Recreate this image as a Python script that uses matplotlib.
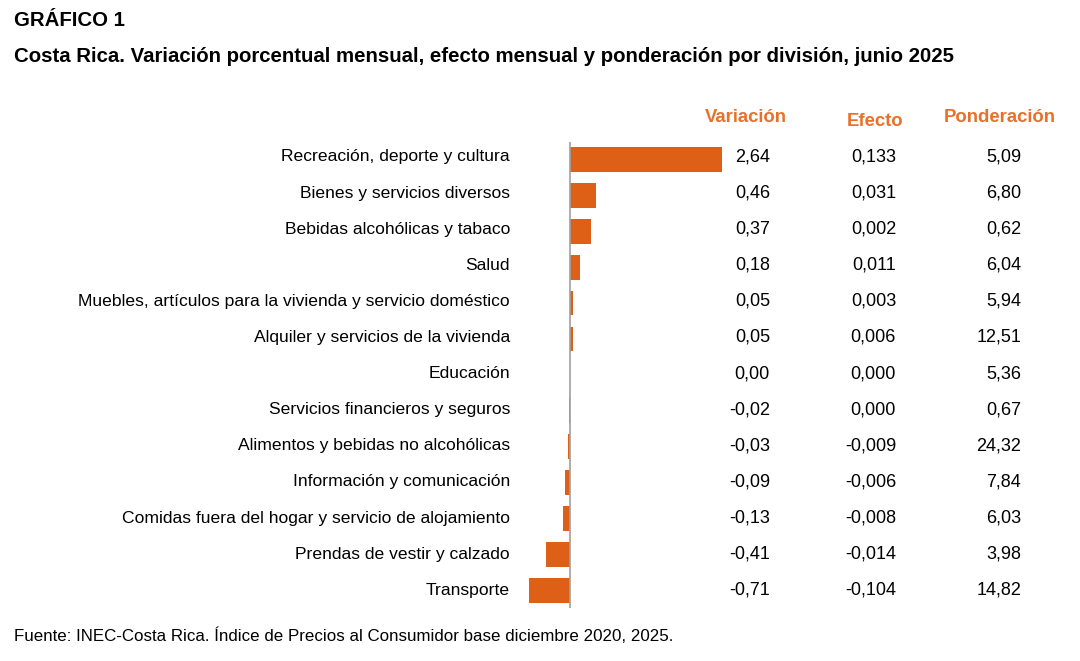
import matplotlib
matplotlib.use('Agg')
import matplotlib.pyplot as plt
from matplotlib import font_manager

# Data
categorias = ['Recreación, deporte y cultura', 'Bienes y servicios diversos',
              'Bebidas alcohólicas y tabaco', 'Salud',
              'Muebles, artículos para la vivienda y servicio doméstico',
              'Alquiler y servicios de la vivienda', 'Educación',
              'Servicios financieros y seguros', 'Alimentos y bebidas no alcohólicas',
              'Información y comunicación',
              'Comidas fuera del hogar y servicio de alojamiento',
              'Prendas de vestir y calzado', 'Transporte']
variacion = [2.64, 0.46, 0.37, 0.18, 0.05, 0.05, 0.00, -0.02, -0.03, -0.09, -0.13, -0.41, -0.71]
efecto = [0.133, 0.031, 0.002, 0.011, 0.003, 0.006, 0.000, 0.000, -0.009, -0.006, -0.008, -0.014, -0.104]
ponderacion = [5.09, 6.80, 0.62, 6.04, 5.94, 12.51, 5.36, 0.67, 24.32, 7.84, 6.03, 3.98, 14.82]

names = {f.name for f in font_manager.fontManager.ttflist}
fam = [f for f in ['Liberation Sans Narrow', 'DejaVu Sans Condensed', 'Liberation Sans'] if f in names] + ['DejaVu Sans']
plt.rcParams['font.family'] = fam

bar_color = '#DD6016'
head_color = '#E8702A'

W, H = 1080, 661
fig = plt.figure(figsize=(W / 100, H / 100), dpi=100)

def fx(px):
    return px / W

def fy(py):
    return 1 - py / H

n = len(categorias)
# bar axes: zero at x=570px, 57.6 px per unit, rows 35.9 px apart
ax_l, ax_r = 500, 760
row = 35.9
ax_t = 159.5 - row / 2
ax_b = ax_t + n * row
ax = fig.add_axes([fx(ax_l), fy(ax_b), fx(ax_r - ax_l), (ax_b - ax_t) / H])
ppu = 57.6
ax.set_xlim((ax_l - 570) / ppu, (ax_r - 570) / ppu)
ax.set_ylim(n - 0.5, -0.5)
ypos = list(range(n))
ax.barh(ypos, variacion, height=0.69, color=bar_color)
ax.axvline(0, color='#A0A0A0', lw=1.2)
ax.axis('off')

def ty(i):
    return 157 + i * 36.1

fs = 12.6
for i in range(n):
    fig.text(fx(510), fy(ty(i)), categorias[i], ha='right', va='center', fontsize=fs)
    fig.text(fx(770), fy(ty(i)), f'{variacion[i]:.2f}'.replace('.', ','), ha='right', va='center', fontsize=13)
    fig.text(fx(896), fy(ty(i)), f'{efecto[i]:.3f}'.replace('.', ','), ha='right', va='center', fontsize=13)
    fig.text(fx(1021), fy(ty(i)), f'{ponderacion[i]:.2f}'.replace('.', ','), ha='right', va='center', fontsize=13)

fig.text(fx(746), fy(118), 'Variación', ha='center', va='center', fontsize=13.3, fontweight='bold', color=head_color)
fig.text(fx(875), fy(121), 'Efecto', ha='center', va='center', fontsize=13.3, fontweight='bold', color=head_color)
fig.text(fx(1000), fy(118), 'Ponderación', ha='center', va='center', fontsize=13.3, fontweight='bold', color=head_color)

fig.text(fx(14), fy(20), 'GRÁFICO 1', ha='left', va='center', fontsize=14.7, fontweight='bold')
fig.text(fx(14), fy(57), 'Costa Rica. Variación porcentual mensual, efecto mensual y ponderación por división, junio 2025',
         ha='left', va='center', fontsize=14.7, fontweight='bold')
fig.text(fx(14), fy(636), 'Fuente: INEC-Costa Rica. Índice de Precios al Consumidor base diciembre 2020, 2025.',
         ha='left', va='center', fontsize=12.2)

fig.savefig('out.png', dpi=100)
